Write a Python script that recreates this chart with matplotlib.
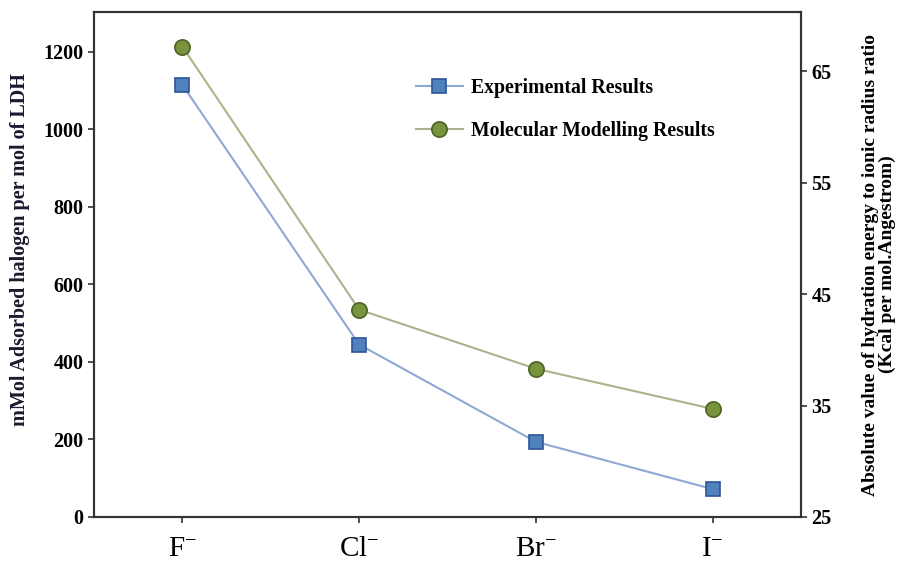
import matplotlib
matplotlib.use("Agg")
from matplotlib import pyplot as plt

ions = ["F$^{-}$", "Cl$^{-}$", "Br$^{-}$", "I$^{-}$"]
experimental = [1115, 445, 194, 72]
modelling = [67.2, 43.6, 38.3, 34.7]

left_ticks = [0, 200, 400, 600, 800, 1000, 1200]
right_ticks = [25, 35, 45, 55, 65]

plt.rcParams['font.family'] = ['Liberation Serif', 'DejaVu Serif']
plt.rcParams['mathtext.fontset'] = 'custom'
plt.rcParams['mathtext.rm'] = 'Liberation Serif'
plt.rcParams['mathtext.it'] = 'Liberation Serif'
plt.rcParams['mathtext.bf'] = 'Liberation Serif:bold'

fig = plt.figure(figsize=(8.98, 5.63), dpi=100)
ax = fig.add_axes([94/898, 1-517/563, (801-94)/898, (517-12)/563])
ax2 = ax.twinx()

x = list(range(len(ions)))
l1, = ax.plot(x, experimental, color='#8fa8d4', lw=1.5, marker='s', markersize=10,
              markerfacecolor='#4f81bd', markeredgecolor='#2f5597', markeredgewidth=1.2,
              label="Experimental Results")
l2, = ax2.plot(x, modelling, color='#a9b48c', lw=1.5, marker='o', markersize=11,
               markerfacecolor='#77933c', markeredgecolor='#4f6228', markeredgewidth=1.2,
               label="Molecular Modelling Results")

ax.set_xlim(-0.5, 3.5)
ax.set_ylim(0, 1303)
ax2.set_ylim(25, 70.3)
ax.set_xticks(x)
ax.set_xticklabels(ions, fontsize=21)
ax.set_yticks(left_ticks)
ax2.set_yticks(right_ticks)
for lab in ax.get_yticklabels() + ax2.get_yticklabels():
    lab.set_fontweight('bold')
    lab.set_fontsize(14.5)

for a in (ax, ax2):
    for s in a.spines.values():
        s.set_color('#333333')
        s.set_linewidth(1.5)
    a.tick_params(direction='out', length=4, width=1.2, color='#333333')
ax.tick_params(axis='x', pad=10)

ax.set_ylabel("mMol Adsorbed halogen per mol of LDH", fontsize=14.5, fontweight='bold',
              color='#1a1a2e')
ax.yaxis.set_label_coords(-0.09, 0.53)
ax2.set_ylabel("Absolute value of hydration energy to ionic radius ratio\n(Kcal per mol.Angestrom)",
               fontsize=14, fontweight='bold', labelpad=22, linespacing=0.95)

leg = ax.legend([l1, l2], [l1.get_label(), l2.get_label()], loc='upper left',
                bbox_to_anchor=(0.43, 0.905), frameon=False, fontsize=14.2,
                labelspacing=1.2, handlelength=2.4, handletextpad=0.4)
for t in leg.get_texts():
    t.set_fontweight('bold')

fig.savefig("out.png", dpi=100)
